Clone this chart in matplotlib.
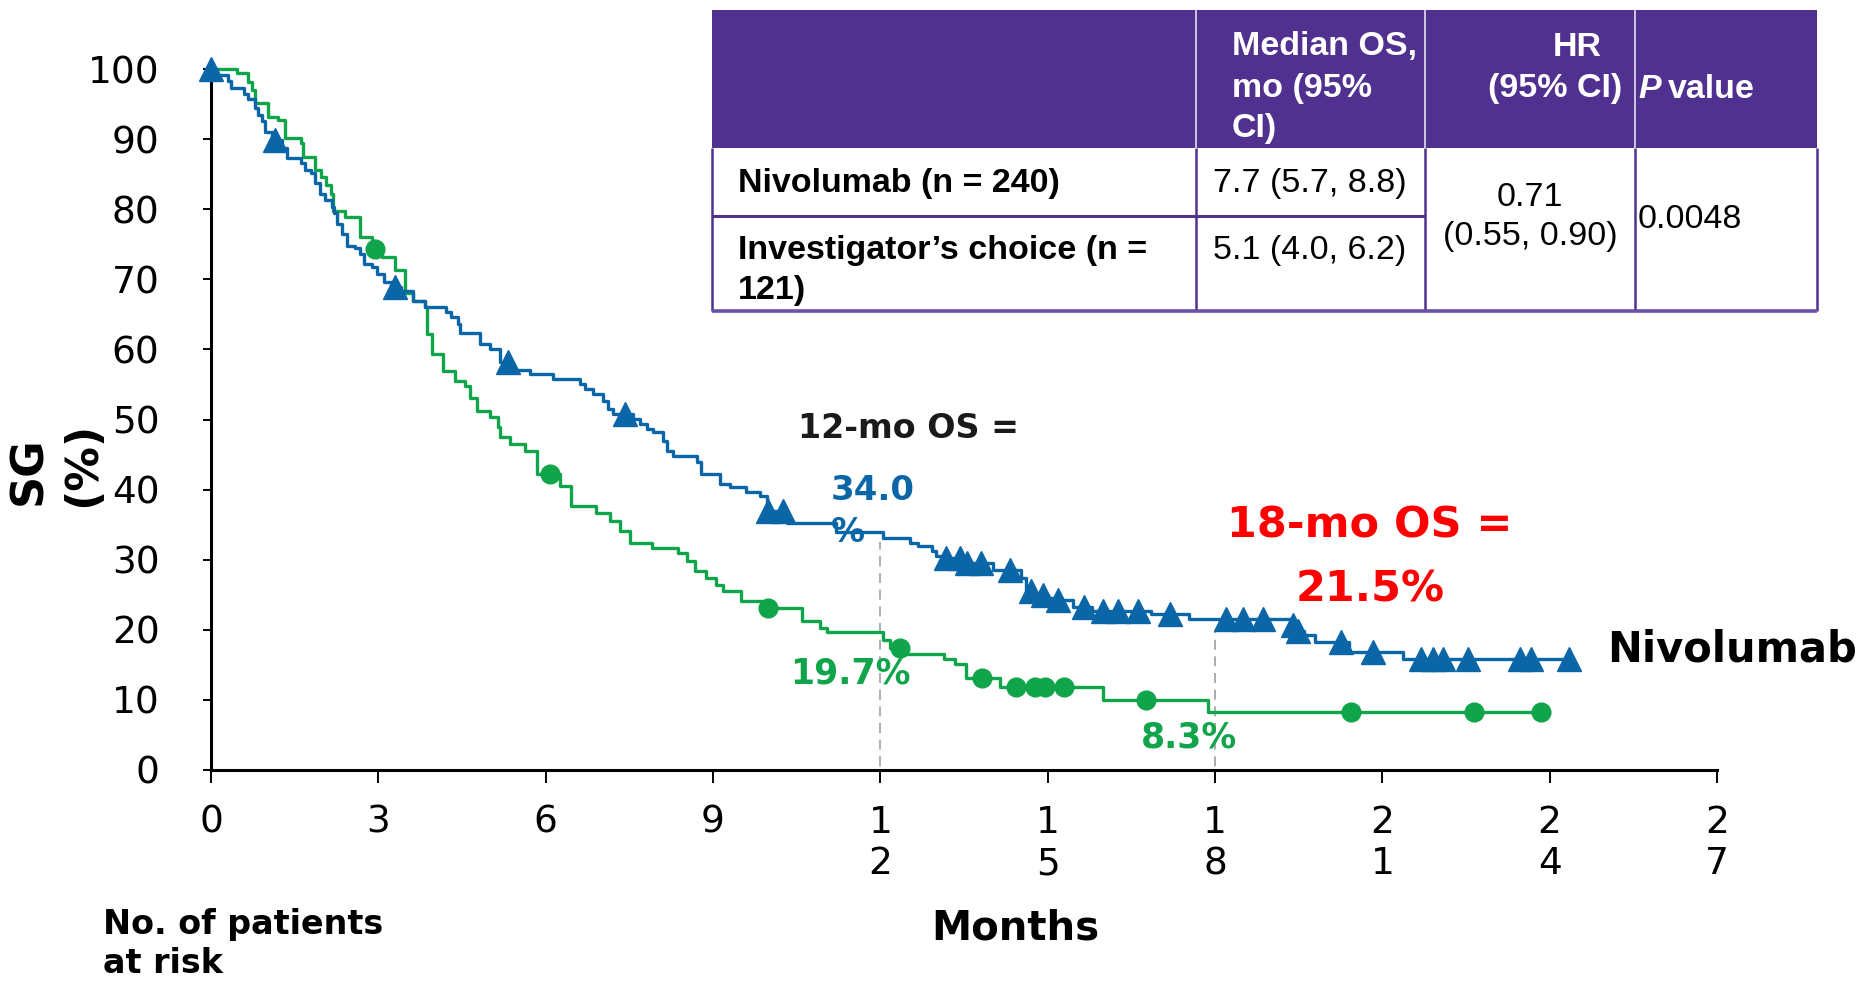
import matplotlib
matplotlib.use("Agg")
import matplotlib.pyplot as plt
from matplotlib.patches import Rectangle
from matplotlib.lines import Line2D
import numpy as np

# ---------------- data ----------------
# Nivolumab Kaplan-Meier steps: time of each drop (months) and survival after it (%)
nivo_times = [0, 0.10, 0.30, 0.36, 0.60, 0.67, 0.78, 0.85, 0.91, 0.97, 1.09, 1.27, 1.36,
              1.62, 1.69, 1.80, 1.86, 1.95, 2.04, 2.17, 2.20, 2.26, 2.35, 2.44, 2.59,
              2.68, 2.74, 2.88, 2.98, 3.10, 3.22, 3.40, 3.63, 3.84, 4.22, 4.31, 4.43,
              4.46, 4.82, 5.00, 5.18, 5.38, 5.72, 6.14, 6.61, 6.70, 6.85, 7.03, 7.12,
              7.21, 7.57, 7.69, 7.81, 7.93, 8.11, 8.17, 8.29, 8.71, 8.79, 9.12, 9.30,
              9.60, 9.84, 9.96, 10.32, 11.20, 12.05, 12.53, 12.68, 12.92, 13.00, 13.15,
              13.48, 14.02, 14.53, 14.62, 14.75, 15.00, 15.15, 15.45, 15.80, 16.85,
              17.54, 19.38, 19.47, 19.60, 19.79, 20.41, 21.37]
nivo_surv = [100, 99.2, 98.3, 97.3, 96.4, 95.7, 94.5, 93.5, 92.6, 91.0, 89.9, 88.7, 87.3,
             86.6, 85.6, 85.1, 83.7, 82.2, 81.3, 80.3, 79.4, 77.9, 76.5, 74.8, 74.4,
             73.6, 72.2, 71.7, 70.8, 69.6, 68.9, 68.4, 66.9, 66.0, 65.4, 64.6, 63.6,
             62.4, 60.8, 60.1, 58.2, 57.0, 56.5, 55.8, 55.1, 54.4, 53.6, 52.7, 51.5,
             50.8, 50.1, 49.3, 48.6, 48.2, 47.0, 45.5, 44.8, 43.9, 42.2, 40.8, 40.3,
             39.6, 39.1, 37.0, 35.2, 34.0, 33.1, 32.4, 31.9, 31.2, 30.5, 30.2,
             29.5, 28.6, 27.4, 25.6, 25.0, 24.6, 24.3, 23.3, 22.7, 22.2,
             21.5, 20.7, 19.8, 19.3, 18.3, 16.9, 15.8]
nivo_end = 24.35
nivo_censor = [0, 1.15, 3.30, 5.33, 7.42, 9.98, 10.25, 13.18, 13.42, 13.56, 13.81, 14.32,
               14.71, 14.92, 15.19, 15.66, 16.00, 16.26, 16.62, 17.19, 18.20, 18.50,
               18.86, 19.40, 19.49, 20.26, 20.83, 21.70, 21.90, 22.09, 22.53, 23.46,
               23.67, 24.35]

# Investigator's choice Kaplan-Meier steps
ic_times = [0, 0.46, 0.67, 0.73, 0.79, 1.03, 1.21, 1.33, 1.62, 1.65, 1.86, 1.98, 2.07,
            2.16, 2.19, 2.40, 2.67, 2.88, 3.06, 3.30, 3.48, 3.63, 3.84, 3.87, 3.96,
            4.16, 4.38, 4.55, 4.64, 4.76, 5.00, 5.15, 5.18, 5.36, 5.63, 5.84, 6.25,
            6.46, 6.91, 7.15, 7.33, 7.51, 7.90, 8.38, 8.53, 8.67, 8.88, 9.06, 9.18,
            9.51, 9.96, 10.59, 10.91, 11.04, 12.05, 12.17, 12.38, 13.15, 13.33, 13.54,
            14.14, 15.99, 17.87]
ic_surv = [100, 99.4, 98.2, 97.0, 95.1, 93.2, 92.7, 90.1, 89.4, 87.5, 85.6, 84.6, 83.4,
           82.2, 79.8, 78.9, 76.1, 74.3, 73.2, 71.3, 68.0, 66.9, 66.0, 62.2, 59.4,
           56.9, 55.5, 54.8, 53.1, 51.2, 50.3, 48.9, 47.5, 46.5, 45.5, 42.2, 40.5,
           37.6, 36.7, 35.5, 34.1, 32.4, 31.7, 31.0, 29.8, 28.4, 27.4, 26.4, 25.5,
           24.1, 23.1, 21.3, 20.3, 19.7, 18.6, 17.4, 16.5, 15.9, 15.1, 13.1,
           11.9, 10.0, 8.3]
ic_end = 23.85
ic_censor = [2.94, 6.08, 9.99, 12.35, 13.83, 14.44, 14.77, 14.95, 15.30, 16.77, 20.44,
             22.65, 23.85]

landmark_months = [12, 18]
nivo_landmark = [34.0, 21.5]
ic_landmark = [19.7, 8.3]

x_ticks = list(range(0, 28, 3))
x_tick_labels = ["0", "3", "6", "9", "1\n2", "1\n5", "1\n8", "2\n1", "2\n4", "2\n7"]
y_ticks = list(range(0, 101, 10))

table_header = ["", "Median OS,\nmo (95%\nCI)", "HR\n(95% CI)", "P value"]
table_arms = ["Nivolumab (n = 240)", "Investigator\u2019s choice (n =\n121)"]
table_median = ["7.7 (5.7, 8.8)", "5.1 (4.0, 6.2)"]
table_hr = "0.71\n(0.55, 0.90)"
table_p = "0.0048"

# ---------------- style ----------------
BLUE = "#0b66a8"
GREEN = "#10a54a"
RED = "#ff0000"
PURPLE = "#51318f"
DARK = "#1a1a1a"
TFONT = "Liberation Sans"

W, H = 1862, 983
fig = plt.figure(figsize=(W / 100, H / 100), dpi=100, facecolor="white")


def fx(x):
    return x / W


def fy(y):
    return 1 - y / H


ax = fig.add_axes([fx(211), fy(770), (1717 - 211) / W, (770 - 69) / H])
ax.set_xlim(0, 27)
ax.set_ylim(0, 100)
for s in ("top", "right"):
    ax.spines[s].set_visible(False)
for s in ("left", "bottom"):
    ax.spines[s].set_linewidth(2.2)
    ax.spines[s].set_color("black")

ax.set_xticks(x_ticks)
ax.set_xticklabels(x_tick_labels, fontsize=27, family="DejaVu Sans", linespacing=1.2)
ax.set_yticks(y_ticks)
ax.set_yticklabels([str(v) for v in y_ticks], fontsize=27, family="DejaVu Sans")
ax.tick_params(axis="x", direction="out", length=9, width=1.4, pad=16)
ax.tick_params(axis="y", direction="out", length=6, width=1.4, pad=31)


def km_step(times, surv, end):
    xs = list(times) + [end]
    ys = list(surv) + [surv[-1]]
    return xs, ys


def value_at(times, surv, t):
    i = np.searchsorted(times, t, side="right") - 1
    return surv[max(i, 0)]


# dashed landmark guides
for m, v in zip(landmark_months, nivo_landmark):
    ax.plot([m, m], [-1.8, v - 1.5], color="#a0a0a0", lw=1.2,
            ls=(0, (6, 4)), clip_on=False, zorder=1)

xs, ys = km_step(ic_times, ic_surv, ic_end)
ax.step(xs, ys, where="post", color=GREEN, lw=2.4, zorder=3, clip_on=False)
xs, ys = km_step(nivo_times, nivo_surv, nivo_end)
ax.step(xs, ys, where="post", color=BLUE, lw=2.4, zorder=4, clip_on=False)

ax.plot(ic_censor, [value_at(ic_times, ic_surv, t) for t in ic_censor], ls="none",
        marker="o", ms=13.5, color=GREEN, zorder=5, clip_on=False)
ax.plot(nivo_censor, [value_at(nivo_times, nivo_surv, t) for t in nivo_censor], ls="none",
        marker="^", ms=17, color=BLUE, zorder=6, clip_on=False)

# ---------------- annotations ----------------
fig.text(fx(798), fy(429), "12-mo OS =", fontsize=24, weight="bold", color=DARK,
         family="DejaVu Sans", va="center", ha="left")
fig.text(fx(831), fy(491), f"{nivo_landmark[0]:.1f}", fontsize=24.5, weight="bold",
         color=BLUE, family="DejaVu Sans", va="center", ha="left", zorder=10)
fig.text(fx(831), fy(533), "%", fontsize=24.5, weight="bold",
         color=BLUE, family="DejaVu Sans", va="center", ha="left", zorder=10)
fig.text(fx(790), fy(674), f"{ic_landmark[0]:.1f}%", fontsize=25, weight="bold",
         color=GREEN, family="DejaVu Sans", va="center", ha="left")
fig.text(fx(1370), fy(525), "18-mo OS =", fontsize=31, weight="bold", color=RED,
         family="DejaVu Sans", va="center", ha="center")
fig.text(fx(1370), fy(589), f"{nivo_landmark[1]:.1f}%", fontsize=31, weight="bold",
         color=RED, family="DejaVu Sans", va="center", ha="center")
fig.text(fx(1141), fy(738), f"{ic_landmark[1]:.1f}%", fontsize=25, weight="bold",
         color=GREEN, family="DejaVu Sans", va="center", ha="left")
fig.text(fx(1607), fy(650), "Nivolumab", fontsize=30, weight="bold", color="black",
         family="DejaVu Sans", va="center", ha="left")

fig.text(fx(1015), fy(929), "Months", fontsize=29, weight="bold", color="black",
         family="DejaVu Sans", va="center", ha="center")
fig.text(fx(103), fy(944), "No. of patients\nat risk", fontsize=24, weight="bold",
         color="black", family="DejaVu Sans", va="center", ha="left",
         linespacing=1.25)
fig.text(fx(29), fy(505), "SG", fontsize=32, weight="bold", rotation=90,
         family="DejaVu Sans", ha="center", va="bottom")
fig.text(fx(83), fy(507), "(%)", fontsize=32, weight="bold", rotation=90,
         family="DejaVu Sans", ha="center", va="bottom")

# ---------------- summary table ----------------
T_L, T_R = 712, 1817
T_TOP, T_HEAD, T_ROW, T_BOT = 10, 148, 216, 311
C1, C2, C3 = 1196, 1425, 1635

fig.patches.append(Rectangle((fx(T_L), fy(T_HEAD)), (T_R - T_L) / W,
                             (T_HEAD - T_TOP) / H, transform=fig.transFigure,
                             facecolor=PURPLE, edgecolor="none", zorder=5))


def fline(x0, y0, x1, y1, color=PURPLE, lw=1.8, alpha=1.0):
    fig.add_artist(Line2D([fx(x0), fx(x1)], [fy(y0), fy(y1)], color=color, lw=lw,
                          alpha=alpha, transform=fig.transFigure, zorder=6,
                          solid_capstyle="butt"))


for cx in (C1, C2, C3):
    fline(cx, T_TOP, cx, T_HEAD, color="white", lw=1.2, alpha=0.85)
    fline(cx, T_HEAD, cx, T_BOT)
fline(T_L, T_HEAD, T_L, T_BOT)
fline(T_R, T_HEAD, T_R, T_BOT)
fline(T_L, T_ROW, C2, T_ROW, lw=2.2)
fline(T_L, T_BOT, T_R, T_BOT, color="#6a52a8", lw=2.6)

tkw = dict(family=TFONT, fontsize=24.5, zorder=7)
head_lines = table_header[1].split("\n")
for txt, yy in zip(head_lines, (47, 88, 128)):
    fig.text(fx(1232), fy(yy), txt, color="white", weight="bold", va="center",
             ha="left", **tkw)
hr_lines = table_header[2].split("\n")
fig.text(fx(1577), fy(47), hr_lines[0], color="white", weight="bold", va="center",
         ha="center", **tkw)
fig.text(fx(1555), fy(88), hr_lines[1], color="white", weight="bold", va="center",
         ha="center", **tkw)
p_letter, p_rest = table_header[3].split(" ", 1)
tp = fig.text(fx(1638), fy(90), p_letter, color="white", weight="bold", style="italic",
              va="center", ha="left", **tkw)
renderer = fig.canvas.get_renderer()
bb = tp.get_window_extent(renderer)
fig.text(bb.x1 / W + 7 / W, fy(90), p_rest, color="white", weight="bold",
         va="center", ha="left", **tkw)

fig.text(fx(738), fy(183), table_arms[0], color="black", weight="bold", va="center",
         ha="left", **tkw)
arm2 = table_arms[1].split("\n")
fig.text(fx(738), fy(251), arm2[0], color="black", weight="bold", va="center",
         ha="left", **tkw)
fig.text(fx(738), fy(291), arm2[1], color="black", weight="bold", va="center",
         ha="left", **tkw)
fig.text(fx(1213), fy(183), table_median[0], color="black", va="center", ha="left", **tkw)
fig.text(fx(1213), fy(251), table_median[1], color="black", va="center", ha="left", **tkw)
hr_a, hr_b = table_hr.split("\n")
fig.text(fx(1530), fy(198), hr_a, color="black", va="center", ha="center", **tkw)
fig.text(fx(1530), fy(237), hr_b, color="black", va="center", ha="center", **tkw)
fig.text(fx(1638), fy(220), table_p, color="black", va="center", ha="left", **tkw)

fig.savefig("out.png", dpi=100, facecolor="white")
